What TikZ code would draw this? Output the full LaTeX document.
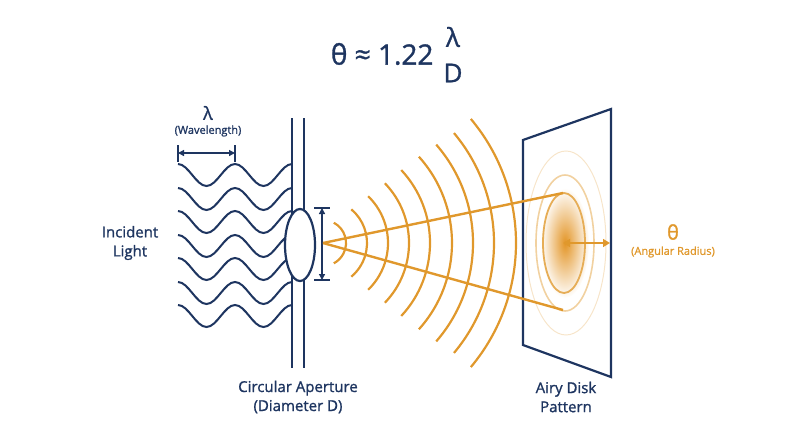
\documentclass[tikz,border=0pt]{standalone}
\usepackage{fontspec}
\setmainfont[AutoFakeBold=1.2]{Open Sans}
\usetikzlibrary{arrows.meta}
\definecolor{navy}{HTML}{1E3560}
\definecolor{gold}{HTML}{E0982C}
\begin{document}
\begin{tikzpicture}[x=1pt,y=-1pt,
  nv/.style={navy,line width=2.2pt},
  gd/.style={gold,line width=2.4pt},
  lbl/.style={navy,font=\fontsize{15}{19}\selectfont\bfseries,align=center},
  dbl/.style={navy,line width=1.3pt,{Triangle[length=6pt,width=6pt]}-{Triangle[length=6pt,width=6pt]}}]
\useasboundingbox (0,0) rectangle (800,447);
% formula
\node[navy,font=\fontsize{28}{30}\selectfont\bfseries,anchor=east] (f1) at (437,54) {θ ≈ 1.22};
\node[navy,font=\fontsize{26}{28}\selectfont\bfseries] (fl) at (453,37) {λ};
\node[navy,font=\fontsize{26}{28}\selectfont\bfseries] (fd) at (453,73) {D};
% waves
\foreach \c in {175,199,222,246,269,293,316}{
  \draw[nv,line width=2pt] (178,\c-11)
    \foreach \i in {1,2}{ cos ++(14.25,11) sin ++(14.25,11) cos ++(14.25,-11) sin ++(14.25,-11) };
}
% aperture
\draw[nv] (292,118) -- (292,368);
\draw[nv] (304,118) -- (304,368);
\draw[nv,fill=white] (300,245) ellipse (15 and 36);
\coordinate (at) at (322,208); \coordinate (ab) at (322,280);
\draw[navy,line width=1.3pt] (314,208) -- (330,208) (314,280) -- (330,280);
\draw[dbl] (at) -- (ab);
% wavelength
\draw[navy,line width=1.3pt] (178,145) -- (178,162) (235,145) -- (235,162);
\coordinate (wl) at (178,153); \coordinate (wr) at (235,153);
\draw[dbl] (wl) -- (wr);
\node[navy,font=\fontsize{18}{20}\selectfont\bfseries] (lam) at (208,113) {λ};
\node[navy,font=\fontsize{11}{13}\selectfont\bfseries] (wav) at (208,131) {(Wavelength)};
% arcs
\coordinate (apex) at (323,243);
\foreach \r/\a in {23/62,44/50,65/46,86/44,107/43,129/42,150/41,171/40,193/40}{
  \draw[gd,line width=2.2pt] (apex) ++(-\a:\r) arc[start angle=-\a,end angle=\a,radius=\r];
}
% airy disk
\shade[inner color=gold!90!orange,outer color=white] (565,243) ellipse (24 and 55);
\draw[gold!25,line width=1pt] (566,243) ellipse (40 and 92);
\draw[gold!45,line width=1.6pt] (565,243) ellipse (29 and 68);
\draw[gold!80,line width=1.8pt] (564,243) ellipse (21 and 50);
% screen
\draw[nv,line join=miter] (523,140) -- (611,109) -- (611,377) -- (523,345) -- cycle;
% rays
\coordinate (ru) at (563,193); \coordinate (rd) at (563,310);
\draw[gd] (apex) -- (ru);
\draw[gd] (apex) -- (rd);
% theta arrow
\coordinate (dc) at (563,243); \coordinate (de) at (610,243);
\draw[gold,line width=1.6pt,{Triangle[length=7pt,width=8pt]}-{Triangle[length=7pt,width=8pt]}] (dc) -- (de);
\node[gold,font=\fontsize{20}{22}\selectfont\bfseries] (th) at (673,232) {θ};
\node[gold,font=\fontsize{11}{13}\selectfont\bfseries] (ar) at (673,252) {(Angular Radius)};
% labels
\node[lbl] (il) at (130,243) {Incident\\Light};
\node[lbl] (ca) at (298,397) {Circular Aperture\\(Diameter D)};
\node[lbl] (ad) at (566,397) {Airy Disk\\Pattern};
\end{tikzpicture}
\end{document}
